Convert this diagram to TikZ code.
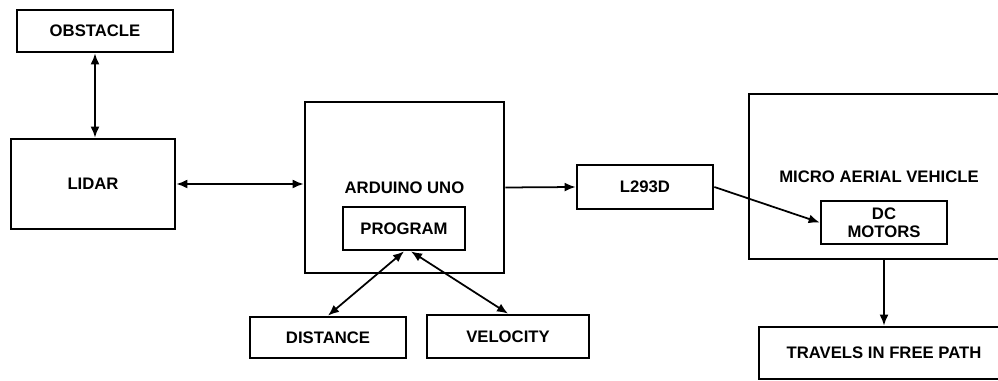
\documentclass[tikz,border=0pt]{standalone}
\usepackage{fontspec}
\setmainfont{Liberation Sans}
\usetikzlibrary{positioning,arrows.meta}

\begin{document}
\begin{tikzpicture}[x=0.02cm,y=-0.02cm,>={Latex[length=2.2mm,width=1.8mm]},
	block/.style={draw,line width=1.6pt,inner sep=0pt,align=center,font=\bfseries\fontsize{9.5}{10.5}\selectfont},
	link/.style={line width=1pt}]
	\useasboundingbox (0,0) rectangle (998,381);

	\node[block,minimum width=3.12cm,minimum height=0.84cm] (obstacle) at (95,31) {OBSTACLE};
	\node[block,minimum width=3.28cm,minimum height=1.8cm] (lidar) at (93,184) {LIDAR};
	\node[block,minimum width=3.98cm,minimum height=3.42cm] (arduino) at (404.5,187.5) {ARDUINO UNO};
	\node[block,minimum width=2.44cm,minimum height=0.86cm] (program) at (404,228.5) {PROGRAM};
	\node[block,minimum width=3.12cm,minimum height=0.82cm] (distance) at (328,337.5) {DISTANCE};
	\node[block,minimum width=3.24cm,minimum height=0.86cm] (velocity) at (508,336.5) {VELOCITY};
	\node[block,minimum width=2.72cm,minimum height=0.88cm] (l293d) at (645,187) {L293D};
	\node[block,minimum width=5.06cm,minimum height=3.3cm] (mav) at (875.5,176.5) {\hspace{4pt}MICRO AERIAL VEHICLE};
	\node[block,minimum width=2.52cm,minimum height=0.86cm] (dcmotors) at (884,222.5) {DC\\MOTORS};
	\node[block,minimum width=4.86cm,minimum height=1.04cm] (travels) at (880.5,353) {\hspace{4pt}TRAVELS IN FREE PATH};

	% sensing
	\draw[link,<->] (obstacle.south) -- (obstacle.south |- lidar.north);
	\draw[link,<->] (lidar.east) -- (lidar.east -| arduino.west);

	% program data
	\draw[link,<->] (program.south) -- (distance.north);
	\draw[link,<->] ([xshift=4pt]program.south) -- (velocity.north);

	% drive chain
	\draw[link,->] (arduino.east) -- (l293d.west);
	\draw[link,->] (l293d.east) -- (dcmotors.west);
	\draw[link,->] (dcmotors.south |- mav.south) -- (dcmotors.south |- travels.north);
\end{tikzpicture}
\end{document}
